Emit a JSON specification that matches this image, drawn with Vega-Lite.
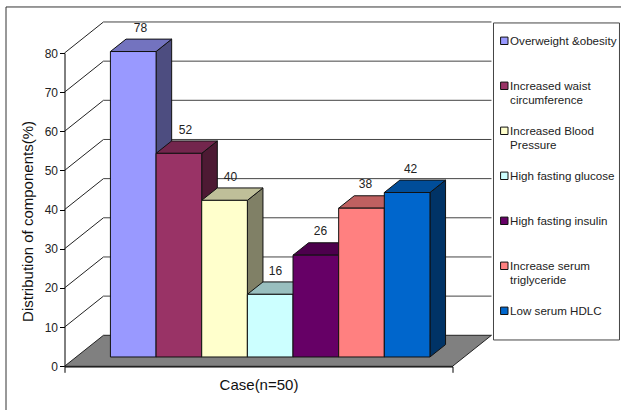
{
  "$schema": "https://vega.github.io/schema/vega-lite/v6.json",
  "width": 388,
  "height": 313.3,
  "autosize": {"type": "none"},
  "padding": {"left": 64.5, "top": 53, "right": 168.5, "bottom": 43.7},
  "background": "#ffffff",
  "config": {
    "view": {"stroke": null},
    "font": "Liberation Sans",
    "axis": {"labelFont": "Liberation Sans", "titleFont": "Liberation Sans"},
    "legend": {"labelFont": "Liberation Sans"}
  },
  "datasets": {
    "components": [
      {"component": "Overweight &obesity", "value": 78},
      {"component": "Increased waist circumference", "value": 52},
      {"component": "Increased Blood Pressure", "value": 40},
      {"component": "High fasting glucose", "value": 16},
      {"component": "High fasting insulin", "value": 26},
      {"component": "Increase serum triglyceride", "value": 38},
      {"component": "Low serum HDLC", "value": 42}
    ],
    "ticks": [
      {"tick": 10}, {"tick": 20}, {"tick": 30}, {"tick": 40},
      {"tick": 50}, {"tick": 60}, {"tick": 70}, {"tick": 80}
    ],
    "floor": [{"depth": 0}, {"depth": 1}],
    "single": [{}]
  },
  "layer": [
    {
      "description": "Chart frame, top edge",
      "data": {"name": "single"},
      "mark": {"type": "rule", "stroke": "#333333", "strokeWidth": 1},
      "encoding": {
        "x": {"datum": -1.2815, "type": "quantitative", "scale": {"domain": [0, 8.5], "nice": false, "zero": false}, "axis": {"values": [0, 8.5], "labels": false, "grid": false, "title": "Case(n=50)", "titleFontSize": 15, "titleFontWeight": "normal", "titleColor": "#111111", "titleY": 11, "domainColor": "#000000", "domainWidth": 1.5, "tickColor": "#000000", "tickSize": 6}},
        "x2": {"datum": 12.2},
        "y": {"datum": 91.75, "type": "quantitative", "scale": {"domain": [0, 80], "nice": false, "zero": false}, "axis": {"values": [0, 10, 20, 30, 40, 50, 60, 70, 80], "tickCount": 9, "labelOverlap": false, "labelBound": false, "labelFlush": false, "labelSeparation": 0, "grid": false, "title": "Distribution of components(%)", "titleFontSize": 15, "titleFontWeight": "normal", "titleColor": "#111111", "titleX": -29, "titleY": 168, "labelFontSize": 12, "labelColor": "#222222", "labelPadding": 2, "domainColor": "#000000", "tickColor": "#000000", "tickSize": 5}}
      }
    },
    {
      "description": "Chart frame, left edge",
      "data": {"name": "single"},
      "mark": {"type": "rule", "stroke": "#333333", "strokeWidth": 1},
      "encoding": {
        "x": {"datum": -1.2815, "type": "quantitative"},
        "y": {"datum": 91.75, "type": "quantitative"},
        "y2": {"datum": -11.2}
      }
    },
    {
      "description": "Gridlines on the left wall",
      "data": {"name": "ticks"},
      "transform": [
        {"calculate": "datum.tick + 7.92", "as": "backY"},
        {"calculate": "0", "as": "frontX"},
        {"calculate": "0.854", "as": "backX"}
      ],
      "mark": {"type": "rule", "stroke": "#222222", "strokeWidth": 1},
      "encoding": {
        "x": {"field": "frontX", "type": "quantitative"},
        "x2": {"field": "backX"},
        "y": {"field": "tick", "type": "quantitative"},
        "y2": {"field": "backY"}
      }
    },
    {
      "description": "Gridlines on the back wall",
      "data": {"name": "ticks"},
      "transform": [
        {"calculate": "datum.tick + 7.92", "as": "backY"},
        {"calculate": "0.854", "as": "startX"},
        {"calculate": "9.354", "as": "endX"}
      ],
      "mark": {"type": "rule", "stroke": "#444444", "strokeWidth": 1},
      "encoding": {
        "x": {"field": "startX", "type": "quantitative"},
        "x2": {"field": "endX"},
        "y": {"field": "backY", "type": "quantitative"}
      }
    },
    {
      "description": "Grey floor of the plot box",
      "data": {"name": "floor"},
      "transform": [
        {"calculate": "0.854 * datum.depth", "as": "left"},
        {"calculate": "8.5 + 0.854 * datum.depth", "as": "right"},
        {"calculate": "7.92 * datum.depth", "as": "level"}
      ],
      "mark": {"type": "area", "orient": "horizontal", "fill": "#808080", "stroke": "#222222", "strokeWidth": 1},
      "encoding": {
        "x": {"field": "left", "type": "quantitative", "stack": null},
        "x2": {"field": "right"},
        "y": {"field": "level", "type": "quantitative"}
      }
    },
    {
      "description": "Right-hand faces of the bars",
      "data": {"name": "components"},
      "transform": [
        {"window": [{"op": "row_number", "as": "slot"}]},
        {"calculate": "[0, 1]", "as": "depth"},
        {"flatten": ["depth"]},
        {"calculate": "datum.slot + 0.75 + 0.256 + 0.3417 * datum.depth", "as": "edgeX"},
        {"calculate": "2.376 + 3.168 * datum.depth", "as": "base"},
        {"calculate": "datum.base + datum.value", "as": "crest"}
      ],
      "mark": {"type": "area", "orient": "vertical", "stroke": "#111111", "strokeWidth": 1},
      "encoding": {
        "x": {"field": "edgeX", "type": "quantitative"},
        "y": {"field": "crest", "type": "quantitative", "stack": null},
        "y2": {"field": "base"},
        "fill": {
          "field": "component",
          "type": "nominal",
          "legend": null,
          "sort": null,
          "scale": {
            "domain": ["Overweight &obesity", "Increased waist circumference", "Increased Blood Pressure", "High fasting glucose", "High fasting insulin", "Increase serum triglyceride", "Low serum HDLC"],
            "range": ["#4D4D80", "#4D1A33", "#808066", "#668080", "#330033", "#804040", "#003366"]
          }
        }
      }
    },
    {
      "description": "Top faces of the bars",
      "data": {"name": "components"},
      "transform": [
        {"window": [{"op": "row_number", "as": "slot"}]},
        {"calculate": "[0, 1]", "as": "depth"},
        {"flatten": ["depth"]},
        {"calculate": "datum.slot - 1 + 0.75 + 0.256 + 0.3417 * datum.depth", "as": "startX"},
        {"calculate": "datum.startX + 1", "as": "endX"},
        {"calculate": "datum.value + 2.376 + 3.168 * datum.depth", "as": "crest"}
      ],
      "mark": {"type": "area", "orient": "horizontal", "stroke": "#111111", "strokeWidth": 1},
      "encoding": {
        "x": {"field": "startX", "type": "quantitative", "stack": null},
        "x2": {"field": "endX"},
        "y": {"field": "crest", "type": "quantitative"},
        "fill": {
          "field": "component",
          "type": "nominal",
          "legend": null,
          "sort": null,
          "scale": {
            "domain": ["Overweight &obesity", "Increased waist circumference", "Increased Blood Pressure", "High fasting glucose", "High fasting insulin", "Increase serum triglyceride", "Low serum HDLC"],
            "range": ["#7373BF", "#73264D", "#BFBF99", "#99BFBF", "#4D004D", "#BF6060", "#004D99"]
          }
        }
      }
    },
    {
      "description": "Legend box",
      "data": {"name": "single"},
      "mark": {"type": "rect", "fill": "#ffffff", "stroke": "#444444", "strokeWidth": 1},
      "encoding": {
        "x": {"datum": 9.398, "type": "quantitative"},
        "x2": {"datum": 12.158},
        "y": {"datum": 87.67, "type": "quantitative"},
        "y2": {"datum": 6.72}
      }
    },
    {
      "description": "Front faces of the bars, which also carry the legend",
      "data": {"name": "components"},
      "transform": [
        {"window": [{"op": "row_number", "as": "slot"}]},
        {"calculate": "datum.slot - 1 + 0.75 + 0.256", "as": "startX"},
        {"calculate": "datum.startX + 1", "as": "endX"},
        {"calculate": "2.376", "as": "base"},
        {"calculate": "datum.base + datum.value", "as": "crest"}
      ],
      "mark": {"type": "rect", "stroke": "#111111", "strokeWidth": 1},
      "encoding": {
        "x": {"field": "startX", "type": "quantitative"},
        "x2": {"field": "endX"},
        "y": {"field": "crest", "type": "quantitative"},
        "y2": {"field": "base"},
        "fill": {
          "field": "component",
          "type": "nominal",
          "sort": null,
          "scale": {
            "domain": ["Overweight &obesity", "Increased waist circumference", "Increased Blood Pressure", "High fasting glucose", "High fasting insulin", "Increase serum triglyceride", "Low serum HDLC"],
            "range": ["#9999FF", "#993366", "#FFFFCC", "#CCFFFF", "#660066", "#FF8080", "#0066CC"]
          },
          "legend": {
            "title": null,
            "orient": "none",
            "legendX": 429,
            "legendY": -18,
            "padding": 0,
            "symbolType": "square",
            "symbolSize": 55,
            "symbolStrokeColor": "#111111",
            "symbolStrokeWidth": 1,
            "symbolOpacity": 1,
            "labelFontSize": 11.6,
            "labelColor": "#222222",
            "labelBaseline": "alphabetic",
            "labelLimit": 200,
            "labelOffset": 0,
            "rowPadding": 18,
            "symbolOffset": 5,
            "encode": {"labels": {"update": {"dy": {"value": 4}, "lineHeight": {"value": 14}}}},
            "labelExpr": "datum.label == 'Increased waist circumference' ? ['Increased waist', 'circumference'] : datum.label == 'Increased Blood Pressure' ? ['Increased Blood', 'Pressure'] : datum.label == 'Increase serum triglyceride' ? ['Increase serum', 'triglyceride'] : [datum.label, '']"
          }
        }
      }
    },
    {
      "description": "Value labels above each bar",
      "data": {"name": "components"},
      "transform": [
        {"window": [{"op": "row_number", "as": "slot"}]},
        {"calculate": "(datum.slot - 1) * 0.986 + 1.665", "as": "labelX"},
        {"calculate": "datum.value + 2.376 + 3.168 + 2.9", "as": "labelY"}
      ],
      "mark": {"type": "text", "fontSize": 12, "color": "#222222", "baseline": "middle"},
      "encoding": {
        "x": {"field": "labelX", "type": "quantitative"},
        "y": {"field": "labelY", "type": "quantitative"},
        "text": {"field": "value", "type": "quantitative"}
      }
    }
  ],
  "resolve": {"scale": {"fill": "independent"}}
}
